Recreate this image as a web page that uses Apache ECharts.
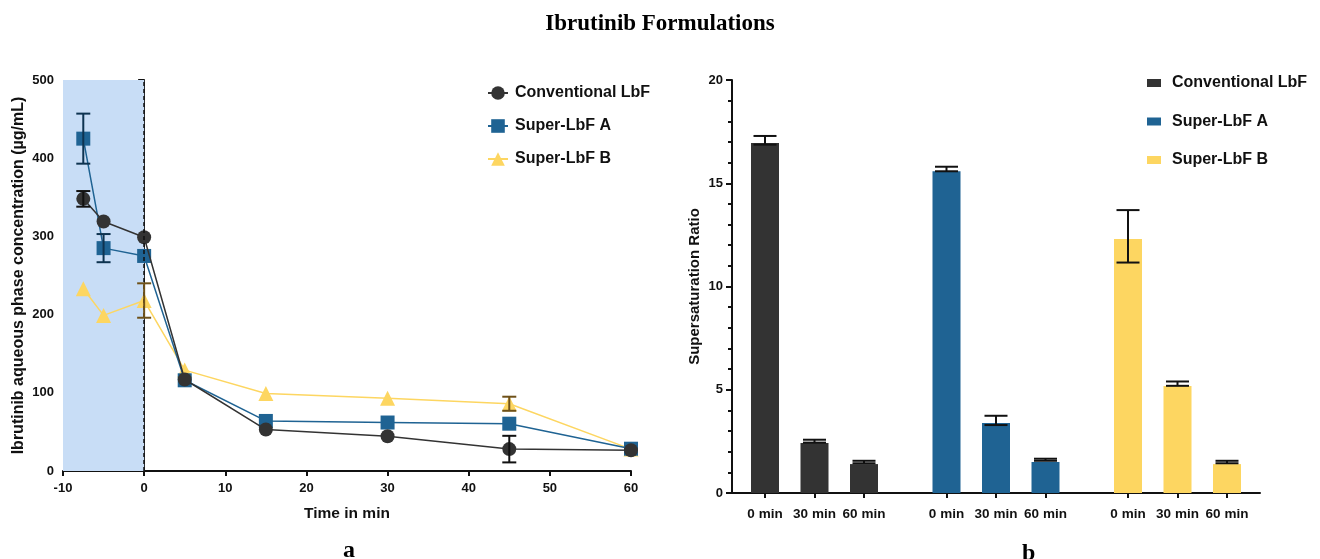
<!DOCTYPE html>
<html>
<head>
<meta charset="utf-8">
<title>Ibrutinib Formulations</title>
<script src="https://cdn.jsdelivr.net/npm/echarts@6/dist/echarts.min.js"></script>
<style>
  html, body { margin: 0; padding: 0; background: #fff; }
  #main { width: 1320px; height: 559px; }
</style>
</head>
<body>
<div id="main"></div>
<script>
// ---- a: concentration over time ----
var times = [-7.5, -5, 0, 5, 15, 30, 45, 60];
var convConc = [348, 319, 299, 117, 53, 44.5, 28, 26.5];
var convErr = [10, 0, 0, 0, 0, 0, 17, 0];
var lbfAConc = [425, 285, 275, 116, 64, 62, 60.5, 28.5];
var lbfAErr = [32, 18, 0, 0, 0, 0, 0, 0];
var lbfBConc = [233, 199, 218, 129, 99, 93, 86, 28];
var lbfBErr = [0, 0, 22, 0, 0, 0, 9, 0];

// ---- b: supersaturation ratio ----
var timeLabels = ['0 min', '30 min', '60 min'];
var convRatio = [16.95, 2.42, 1.40];
var convHi = [17.29, 2.58, 1.56];
var convLo = [16.87, 2.44, 1.44];
var lbfARatio = [15.58, 3.39, 1.50];
var lbfAHi = [15.80, 3.74, 1.66];
var lbfALo = [15.58, 3.29, 1.56];
var lbfBRatio = [12.30, 5.18, 1.40];
var lbfBHi = [13.70, 5.40, 1.56];
var lbfBLo = [11.16, 5.19, 1.44];

var names = ['Conventional LbF', 'Super-LbF A', 'Super-LbF B'];
var colors = ['#333333', '#1f6393', '#fdd661'];
var errColors = ['#111111', '#0e3350', '#6e5119'];

var font = 'Liberation Sans, Arial, sans-serif';
var serif = 'Liberation Serif, Times New Roman, serif';

// x position of each bar in panel b (3 groups of 3 with a gap)
function barPos(g, i) { return 2 + 11 * g + 3 * i; }

var tickPos = [];
var tickText = {};
for (var g = 0; g < 3; g++) {
  for (var i = 0; i < 3; i++) {
    tickPos.push(barPos(g, i));
    tickText[barPos(g, i)] = timeLabels[i];
  }
}

function pairs(xs, ys) {
  return xs.map(function (x, k) { return [x, ys[k]]; });
}

// error bar series: data = [x, lo, hi]
function errSeries(xIdx, yIdx, data, color, capW, lw) {
  return {
    type: 'custom',
    xAxisIndex: xIdx,
    yAxisIndex: yIdx,
    z: 5,
    silent: true,
    data: data,
    renderItem: function (params, api) {
      var lo = api.coord([api.value(0), api.value(1)]);
      var hi = api.coord([api.value(0), api.value(2)]);
      var st = { stroke: color, lineWidth: lw };
      return {
        type: 'group',
        children: [
          { type: 'line', shape: { x1: lo[0], y1: lo[1], x2: hi[0], y2: hi[1] }, style: st },
          { type: 'line', shape: { x1: hi[0] - capW / 2, y1: hi[1], x2: hi[0] + capW / 2, y2: hi[1] }, style: st },
          { type: 'line', shape: { x1: lo[0] - capW / 2, y1: lo[1], x2: lo[0] + capW / 2, y2: lo[1] }, style: st }
        ]
      };
    }
  };
}

function lineErrData(vals, errs) {
  var out = [];
  for (var k = 0; k < times.length; k++) {
    if (errs[k] > 0) out.push([times[k], vals[k] - errs[k], vals[k] + errs[k]]);
  }
  return out;
}

function barErrData(g, lo, hi) {
  return lo.map(function (v, k) { return [barPos(g, k), v, hi[k]]; });
}

function barData(g, vals) {
  return vals.map(function (v, k) { return [barPos(g, k), v]; });
}

var axisLineStyle = { color: '#111', width: 2 };
var tickLabel = { color: '#111', fontWeight: 'bold', fontSize: 13, fontFamily: font };

var lineSymbols = ['circle', 'rect', 'triangle'];
var lineSizes = [14, 14, 15];
var lineVals = [convConc, lbfAConc, lbfBConc];

var series = [];
// lines first, so the legend picks them up
for (var s = 0; s < 3; s++) {
  series.push({
    name: names[s],
    type: 'line',
    xAxisIndex: 0,
    yAxisIndex: 0,
    data: pairs(times, lineVals[s]),
    symbol: lineSymbols[s],
    symbolSize: lineSizes[s],
    z: 4 - s,
    lineStyle: { color: colors[s], width: 1.5 },
    itemStyle: { color: colors[s] }
  });
}
// shaded pre-phase and dashed line at t = 0
series[0].markArea = {
  silent: true,
  itemStyle: { color: '#c8ddf6' },
  data: [[{ coord: [-10, 0] }, { coord: [0, 500] }]]
};
series[0].markLine = {
  silent: true,
  symbol: 'none',
  label: { show: false },
  lineStyle: { color: '#111', type: [4, 3], width: 1.5 },
  data: [[{ coord: [0, 0] }, { coord: [0, 500] }]]
};

series.push(errSeries(0, 0, lineErrData(convConc, convErr), errColors[0], 14, 2));
series.push(errSeries(0, 0, lineErrData(lbfAConc, lbfAErr), errColors[1], 14, 2));
series.push(errSeries(0, 0, lineErrData(lbfBConc, lbfBErr), errColors[2], 14, 2));

var barVals = [convRatio, lbfARatio, lbfBRatio];
var barLo = [convLo, lbfALo, lbfBLo];
var barHi = [convHi, lbfAHi, lbfBHi];
for (var b = 0; b < 3; b++) {
  series.push({
    name: names[b],
    type: 'bar',
    xAxisIndex: 1,
    yAxisIndex: 1,
    barWidth: 28,
    barGap: '-100%',
    data: barData(b, barVals[b]),
    itemStyle: { color: colors[b] }
  });
}
for (var e = 0; e < 3; e++) {
  series.push(errSeries(1, 1, barErrData(e, barLo[e], barHi[e]), '#111', 23, 2));
}

var legendText = { fontFamily: font, fontWeight: 'bold', fontSize: 16, color: '#111' };

var option = {
  backgroundColor: '#fff',
  animation: false,
  title: [
    { text: 'Ibrutinib Formulations', left: 'center', top: 8,
      textStyle: { fontFamily: serif, fontWeight: 'bold', fontSize: 23, color: '#000' } },
    { text: 'a', left: 338, top: 534,
      textStyle: { fontFamily: serif, fontWeight: 'bold', fontSize: 24, color: '#000' } },
    { text: 'b', left: 1017, top: 537,
      textStyle: { fontFamily: serif, fontWeight: 'bold', fontSize: 24, color: '#000' } }
  ],
  legend: [
    {
      left: 482, top: 80, orient: 'vertical', itemGap: 17,
      itemWidth: 20, itemHeight: 17,
      textStyle: Object.assign({ padding: [0, 0, 0, 2] }, legendText),
      data: names
    },
    {
      left: 1142, top: 70, orient: 'vertical', itemGap: 22.5,
      itemWidth: 14, itemHeight: 8,
      textStyle: Object.assign({ padding: [0, 0, 0, 6] }, legendText),
      data: names.map(function (n, k) {
        return { name: n, icon: 'rect', itemStyle: { color: colors[k] } };
      })
    }
  ],
  grid: [
    { left: 63, top: 80, width: 568, height: 391 },
    { left: 732, top: 80, width: 528, height: 413 }
  ],
  xAxis: [
    {
      type: 'value', gridIndex: 0, min: -10, max: 60, interval: 10,
      name: 'Time in min', nameLocation: 'middle', nameGap: 35,
      nameTextStyle: { fontFamily: font, fontWeight: 'bold', fontSize: 15.5, color: '#111' },
      axisLine: { onZero: false, lineStyle: axisLineStyle },
      axisTick: { length: 5, lineStyle: { width: 2, color: '#111' } },
      axisLabel: Object.assign({ margin: 11 }, tickLabel),
      splitLine: { show: false }
    },
    {
      type: 'value', gridIndex: 1, min: 0, max: 32,
      axisLine: { onZero: false, lineStyle: axisLineStyle },
      axisTick: { length: 5, customValues: tickPos, lineStyle: { width: 2, color: '#111' } },
      axisLabel: Object.assign({}, tickLabel, {
        margin: 14,
        fontSize: 13.5,
        customValues: tickPos,
        formatter: function (v) { return tickText[v] || ''; }
      }),
      splitLine: { show: false }
    }
  ],
  yAxis: [
    {
      type: 'value', gridIndex: 0, min: 0, max: 500, interval: 100,
      name: 'Ibrutinib aqueous phase concentration (\u00b5g/mL)',
      nameLocation: 'middle', nameGap: 36,
      nameTextStyle: { fontFamily: font, fontWeight: 'bold', fontSize: 16, color: '#111' },
      axisLine: { show: true, lineStyle: axisLineStyle },
      axisTick: { show: true, length: 6, lineStyle: { width: 2, color: '#111' } },
      minorTick: { show: true, splitNumber: 5, length: 4, lineStyle: { width: 2, color: '#111' } },
      axisLabel: Object.assign({ margin: 9 }, tickLabel),
      splitLine: { show: false }
    },
    {
      type: 'value', gridIndex: 1, min: 0, max: 20, interval: 5,
      name: 'Supersaturation Ratio',
      nameLocation: 'middle', nameGap: 30,
      nameTextStyle: { fontFamily: font, fontWeight: 'bold', fontSize: 15, color: '#111' },
      axisLine: { show: true, lineStyle: axisLineStyle },
      axisTick: { show: true, length: 6, lineStyle: { width: 2, color: '#111' } },
      minorTick: { show: true, splitNumber: 5, length: 4, lineStyle: { width: 2, color: '#111' } },
      axisLabel: Object.assign({ margin: 9 }, tickLabel),
      splitLine: { show: false }
    }
  ],
  series: series
};

var myChart = echarts.init(document.getElementById('main'));
myChart.setOption(option);
</script>
</body>
</html>
